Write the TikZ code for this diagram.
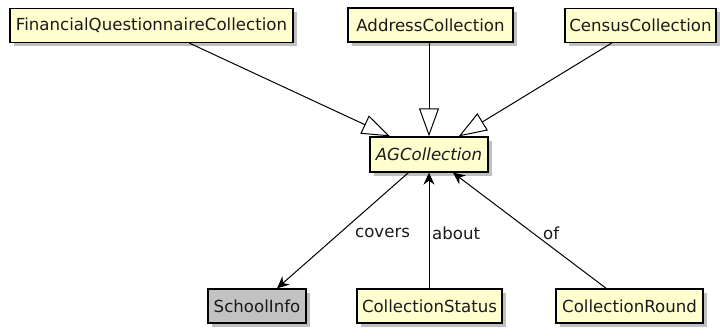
\documentclass[tikz,border=0pt]{standalone}
\usepackage{fontspec}
\setmainfont{DejaVu Sans}
\usetikzlibrary{arrows.meta,shadows}
\definecolor{umlyellow}{HTML}{FEFECE}
\definecolor{umlgray}{HTML}{C2C2C2}
\definecolor{umltext}{HTML}{1A1A1A}
\newcommand{\umlfont}{\fontsize{16.6}{19}\selectfont}
\begin{document}
\begin{tikzpicture}[x=1pt,y=-1pt,
  cls/.style={draw=black, line width=1.3pt, fill=umlyellow, inner sep=0pt,
    minimum height=34pt, text=umltext, font=\umlfont,
    drop shadow={shadow xshift=3.5pt, shadow yshift=-3.5pt, fill=black!45, opacity=0.55}},
  gen/.style={line width=1pt, draw=black, -{Triangle[open, length=28pt, width=20pt, fill=white]}},
  assoc/.style={line width=1pt, draw=black, -{Stealth[length=12pt, width=11pt, inset=4pt]}},
  lbl/.style={anchor=west, inner sep=0pt, text=umltext, font=\umlfont}]
\useasboundingbox (0,0) rectangle (720,335);
\fill[white] (0,0) rectangle (720,335);

\node[cls, minimum width=283pt] (fqc) at (151.5,25.5) {FinancialQuestionnaireCollection};
\node[cls, minimum width=165pt] (addr) at (430.5,25) {AddressCollection};
\node[cls, minimum width=151pt] (census) at (640.5,25.5) {CensusCollection};
\node[cls, minimum width=118pt, minimum height=35pt, font=\umlfont\itshape] (ag) at (429,154.5) {AGCollection};
\node[cls, minimum width=98pt, fill=umlgray] (school) at (257,306) {SchoolInfo};
\node[cls, minimum width=145pt] (status) at (429.5,306) {CollectionStatus};
\node[cls, minimum width=147pt] (round) at (629.5,306) {CollectionRound};

\draw[gen] (fqc) -- (ag);
\draw[gen] (addr.south -| ag.north) -- (ag.north);
\draw[gen] (census) -- (ag);
\draw[assoc] (ag) -- (school);
\draw[assoc] (status.north -| ag.south) -- (ag.south);
\draw[assoc] (round) -- (ag);

\node[lbl] (lcovers) at (355,233) {covers};
\node[lbl] (labout) at (432,233) {about};
\node[lbl] (lof) at (543,233) {of};
\end{tikzpicture}
\end{document}
